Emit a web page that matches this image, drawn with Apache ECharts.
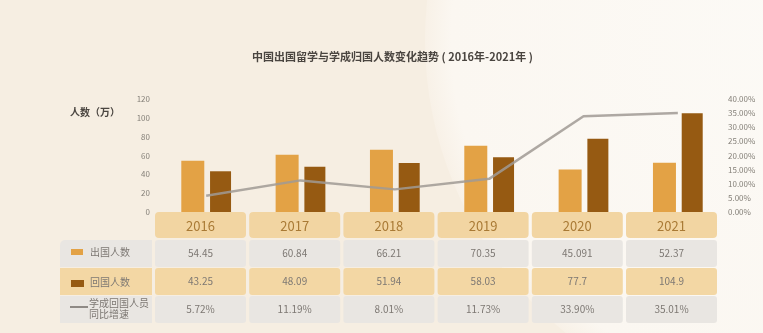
<!DOCTYPE html>
<html>
<head>
<meta charset="utf-8">
<script src="https://cdn.jsdelivr.net/npm/echarts@6/dist/echarts.min.js"></script>
<style>
  html, body { margin: 0; padding: 0; background: #f6eee2; }
  #chart { width: 763px; height: 333px; }
</style>
</head>
<body>
<div id="chart"></div>
<script>
// Study-abroad departures and returnees, 2016–2021 (unit: 10k people)
const years = ['2016', '2017', '2018', '2019', '2020', '2021'];
const outbound = [54.45, 60.84, 66.21, 70.35, 45.091, 52.37];
const returned = [43.25, 48.09, 51.94, 58.03, 77.7, 104.9];
// Year-on-year growth of returnees, in percent
const returnGrowth = [5.72, 11.19, 8.01, 11.73, 33.90, 35.01];

const seriesNames = ['出国人数', '回国人数', '学成回国人员\n同比增速'];
const leftTicks = [0, 20, 40, 60, 80, 100, 120];
const rightTicks = [0, 5, 10, 15, 20, 25, 30, 35, 40];

const C_OUT = '#e3a245';
const C_RET = '#965a12';
const C_LINE = 'rgba(160,154,148,0.85)';
const FONT = '"Noto Sans CJK SC", "Noto Sans", sans-serif';

const chart = echarts.init(document.getElementById('chart'), null, { renderer: 'canvas' });

// Data table under the plot: header row of years, then one row per series
const tableLeft = 155, pitch = 94.2, cellW = 91;
const headerY = 212, headerH = 26;
const rowY = [240, 268, 296], rowH = 27;
const rowFill = ['#e9e6e2', '#f3d7a4', '#e9e6e2'];
const rowValues = [
  outbound.map(v => String(v)),
  returned.map(v => String(v)),
  returnGrowth.map(v => v.toFixed(2) + '%')
];

const graphics = [];
// soft lighter halo in the upper right of the backdrop
graphics.push({
  type: 'circle', z: -10, silent: true,
  shape: { cx: 800, cy: 40, r: 375 },
  style: {
    fill: {
      type: 'radial', x: 0.5, y: 0.5, r: 0.5,
      colorStops: [
        { offset: 0, color: '#fcfaf6' },
        { offset: 0.93, color: '#fbf7f1' },
        { offset: 1, color: '#f8f1e7' }
      ]
    }
  }
});
graphics.push({
  type: 'text', left: 70, top: 107,
  style: { text: '人数（万）', fill: '#4a4540', font: 'bold 10px ' + FONT }
});
years.forEach((y, i) => {
  const x = tableLeft + i * pitch;
  graphics.push({
    type: 'rect', z: 1,
    shape: { x: x, y: headerY, width: cellW, height: headerH, r: 4 },
    style: { fill: '#f2d5a2' }
  });
  graphics.push({
    type: 'text', z: 2,
    x: x + cellW / 2, y: headerY + headerH / 2 + 1,
    style: { text: y, fill: '#a97a35', font: '13px ' + FONT, align: 'center', verticalAlign: 'middle' }
  });
});
rowY.forEach((ry, r) => {
  graphics.push({
    type: 'rect', z: 1,
    shape: { x: 60, y: ry, width: 92, height: rowH, r: r === 0 ? [5, 0, 0, 0] : 0 },
    style: { fill: rowFill[r] }
  });
  years.forEach((y, i) => {
    const x = tableLeft + i * pitch;
    graphics.push({
      type: 'rect', z: 1,
      shape: { x: x, y: ry, width: cellW, height: rowH, r: 3 },
      style: { fill: rowFill[r] }
    });
    graphics.push({
      type: 'text', z: 2,
      x: x + cellW / 2, y: ry + rowH / 2,
      style: { text: rowValues[r][i], fill: '#7d7873', font: '10px ' + FONT, align: 'center', verticalAlign: 'middle' }
    });
  });
});
// legend keys inside the label column
graphics.push({ type: 'rect', z: 2, shape: { x: 71, y: 249, width: 12, height: 6 }, style: { fill: C_OUT } });
graphics.push({ type: 'rect', z: 2, shape: { x: 71, y: 280, width: 13, height: 7 }, style: { fill: C_RET } });
graphics.push({ type: 'line', z: 2, shape: { x1: 70, y1: 307, x2: 88, y2: 307 }, style: { stroke: '#8f8a85', lineWidth: 2 } });
graphics.push({ type: 'text', z: 2, x: 90, y: 252, style: { text: seriesNames[0], fill: '#7d7873', font: '10px ' + FONT, verticalAlign: 'middle' } });
graphics.push({ type: 'text', z: 2, x: 90, y: 282, style: { text: seriesNames[1], fill: '#7d7873', font: '10px ' + FONT, verticalAlign: 'middle' } });
graphics.push({ type: 'text', z: 2, x: 89, y: 309, style: { text: seriesNames[2], fill: '#7d7873', font: '10px ' + FONT, verticalAlign: 'middle', lineHeight: 11 } });

const option = {
  backgroundColor: '#f6eee2',
  animation: false,
  title: {
    text: '中国出国留学与学成归国人数变化趋势 ( 2016年-2021年 )',
    left: 247, top: 46,
    textStyle: { fontFamily: FONT, fontSize: 11, fontWeight: 'bold', color: '#4a4540' }
  },
  grid: { left: 159, right: 38, top: 99, bottom: 121 },
  xAxis: {
    type: 'category', data: years,
    axisLine: { show: false }, axisTick: { show: false }, axisLabel: { show: false }
  },
  yAxis: [
    {
      type: 'value', min: leftTicks[0], max: leftTicks[leftTicks.length - 1], interval: 20,
      splitLine: { show: false }, axisLine: { show: false }, axisTick: { show: false },
      axisLabel: { color: '#858079', fontSize: 8, fontFamily: FONT, margin: 9 }
    },
    {
      type: 'value', min: rightTicks[0], max: rightTicks[rightTicks.length - 1], interval: 5,
      splitLine: { show: false }, axisLine: { show: false }, axisTick: { show: false },
      axisLabel: { color: '#858079', fontSize: 8, fontFamily: FONT, margin: 3,
        formatter: v => v.toFixed(2) + '%' }
    }
  ],
  series: [
    { name: seriesNames[0], type: 'bar', data: outbound, barWidth: 23, barGap: '25%',
      itemStyle: { color: C_OUT }, z: 2 },
    { name: seriesNames[1], type: 'bar', data: returned, barWidth: 21,
      itemStyle: { color: C_RET }, z: 2 },
    { name: seriesNames[2], type: 'line', yAxisIndex: 1, data: returnGrowth,
      showSymbol: false, symbol: 'none',
      lineStyle: { color: C_LINE, width: 2.5 }, z: 3 }
  ],
  graphic: graphics
};
chart.setOption(option);
</script>
</body>
</html>
